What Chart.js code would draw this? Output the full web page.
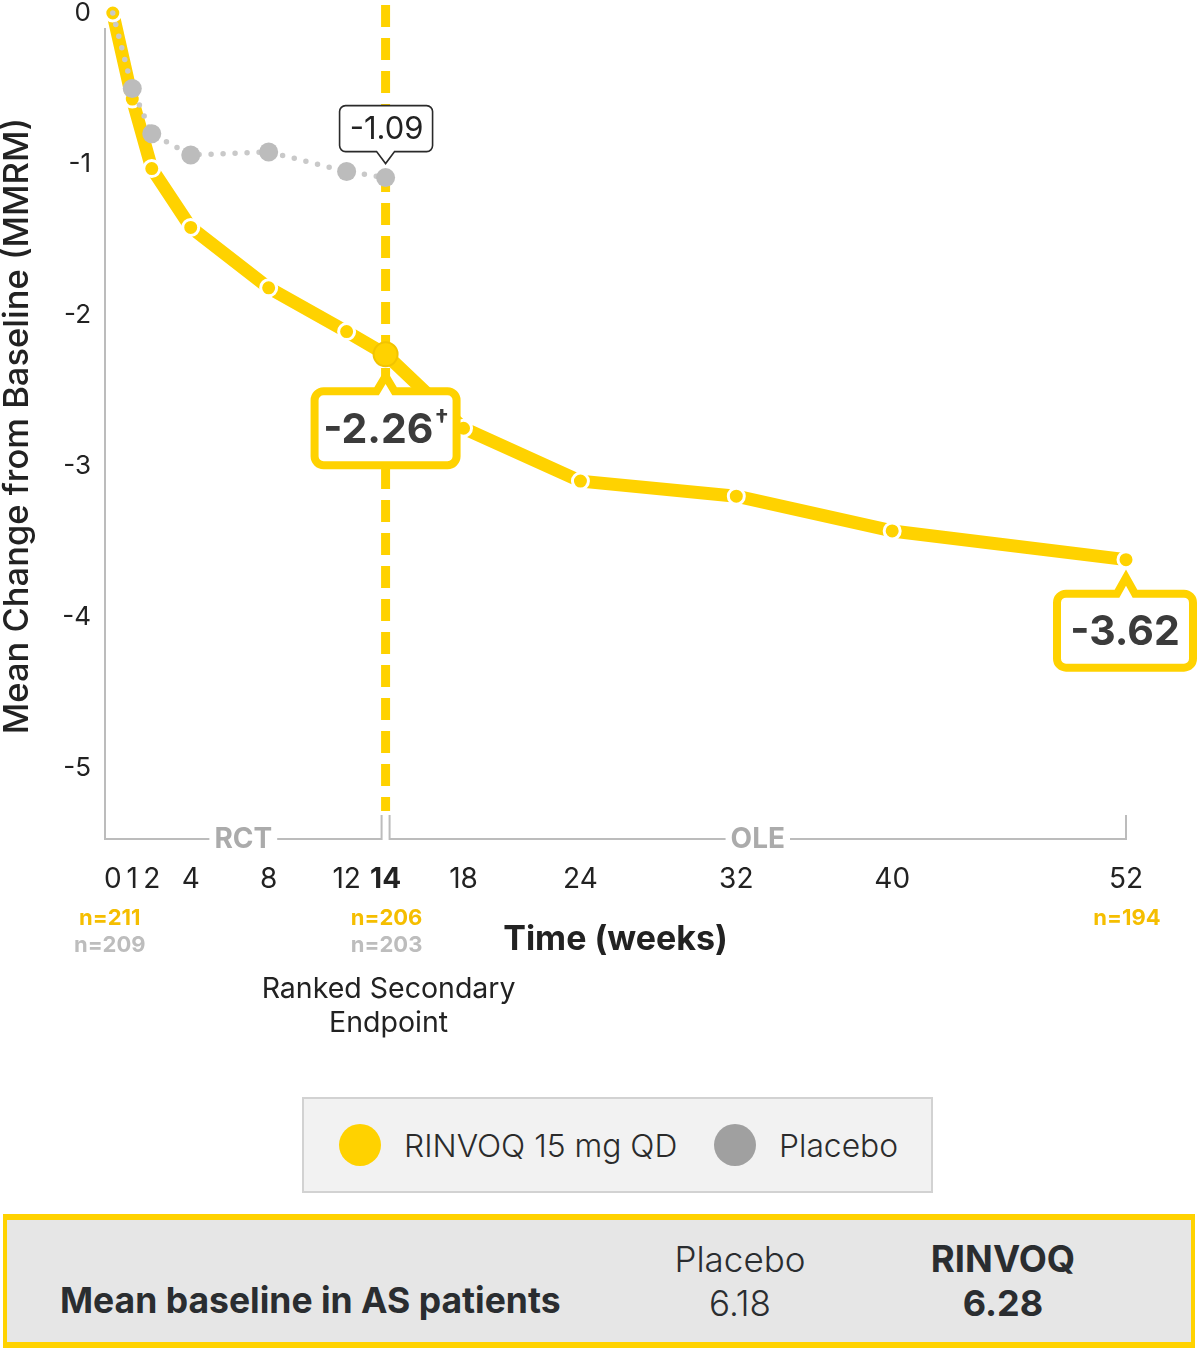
<!DOCTYPE html>
<html><head><meta charset="utf-8">
<script src="https://cdn.jsdelivr.net/npm/chart.js@4.4.1/dist/chart.umd.min.js"></script>
<style>
html,body{margin:0;padding:0;background:#fff;}
#wrap{position:relative;width:1199px;height:1350px;overflow:hidden;font-family:Inter,Roboto,"Noto Sans",sans-serif;color:#2a2d30;}
#c{position:absolute;left:0;top:0;}
#legend{position:absolute;left:302px;top:1097px;width:627px;height:92px;background:#f2f2f2;border:2px solid #d2d2d2;}
.sw{position:absolute;width:42px;height:42px;border-radius:50%;transform:translate(-50%,-50%);}
.t{position:absolute;white-space:nowrap;transform:translateY(-50%);}
.tc{position:absolute;white-space:nowrap;transform:translate(-50%,-50%);}
#tbl{position:absolute;left:3px;top:1214px;width:1184px;height:122px;background:#e6e6e6;border:solid #FFD200;border-width:6px 4px;}
</style></head>
<body><div id="wrap">
<canvas id="c" width="1199" height="1080"></canvas>
<div id="legend"></div>
<div class="sw" style="left:360px;top:1145px;background:#FFD200"></div>
<div class="t" style="left:404px;top:1145px;font-size:31.8px;font-weight:300;color:#2b2b2b">RINVOQ 15 mg QD</div>
<div class="sw" style="left:735px;top:1145px;background:#a0a0a0"></div>
<div class="t" style="left:779px;top:1145px;font-size:31.8px;font-weight:300;color:#2b2b2b">Placebo</div>
<div id="tbl"></div>
<div class="t" style="left:60px;top:1300px;font-size:35.5px;font-weight:700">Mean baseline in AS patients</div>
<div class="tc" style="left:740px;top:1259px;font-size:35px;font-weight:300">Placebo</div>
<div class="tc" style="left:740px;top:1303px;font-size:35px;font-weight:300">6.18</div>
<div class="tc" style="left:1003px;top:1259px;font-size:36.5px;font-weight:700">RINVOQ</div>
<div class="tc" style="left:1003px;top:1303px;font-size:36px;font-weight:700">6.28</div>
</div>
<script>
// ---- data ----
const weeks = [0, 1, 2, 4, 8, 12, 14, 18, 24, 32, 40, 52];
const rinvoqValues = [0, -0.57, -1.03, -1.42, -1.82, -2.11, -2.26, -2.75, -3.10, -3.20, -3.43, -3.62];
const placeboWeeks = [0, 1, 2, 4, 8, 12, 14];
const placeboValues = [0, -0.50, -0.80, -0.94, -0.92, -1.05, -1.09];
const xTickValues = [0, 1, 2, 4, 8, 12, 14, 18, 24, 32, 40, 52];
const yTickValues = [0, -1, -2, -3, -4, -5];
const nRinvoq = {0: 'n=211', 14: 'n=206', 52: 'n=194'};
const nPlacebo = {0: 'n=209', 14: 'n=203'};
const endpointWeek = 14;
const lastWeek = 52;

const YEL = '#FFD200';
const GRAY_PT = '#bcbcbc';
const FONT = 'Inter, Roboto, sans-serif';

function calloutPath(ctx, L, R, T, B, r, tx, tipY, hb, up) {
  ctx.beginPath();
  ctx.moveTo(L + r, T);
  if (up) { ctx.lineTo(tx - hb, T); ctx.lineTo(tx, tipY); ctx.lineTo(tx + hb, T); }
  ctx.lineTo(R - r, T);
  ctx.arcTo(R, T, R, T + r, r);
  ctx.lineTo(R, B - r);
  ctx.arcTo(R, B, R - r, B, r);
  if (!up) { ctx.lineTo(tx + hb, B); ctx.lineTo(tx, tipY); ctx.lineTo(tx - hb, B); }
  ctx.lineTo(L + r, B);
  ctx.arcTo(L, B, L, B - r, r);
  ctx.lineTo(L, T + r);
  ctx.arcTo(L, T, L + r, T, r);
  ctx.closePath();
}

const deco = {
  id: 'deco',
  beforeDatasetsDraw(chart) {
    const {ctx, chartArea: a, scales: {x}} = chart;
    const x14 = x.getPixelForValue(endpointWeek), x52 = x.getPixelForValue(lastWeek);
    ctx.save();
    ctx.strokeStyle = '#bcbcbc'; ctx.lineWidth = 2;
    ctx.beginPath();
    ctx.moveTo(a.left, a.top + 15); ctx.lineTo(a.left, a.bottom);
    ctx.lineTo(x14 - 4, a.bottom); ctx.lineTo(x14 - 4, a.bottom - 24);
    ctx.moveTo(x14 + 4, a.bottom - 24); ctx.lineTo(x14 + 4, a.bottom); ctx.lineTo(x52, a.bottom); ctx.lineTo(x52, a.bottom - 24);
    ctx.stroke();
    ctx.font = '700 28px ' + FONT;
    ctx.textAlign = 'center'; ctx.textBaseline = 'middle';
    const lab = (t, cx) => {
      const w = ctx.measureText(t).width + 10;
      ctx.fillStyle = '#fff'; ctx.fillRect(cx - w / 2, a.bottom - 10, w, 20);
      ctx.fillStyle = '#ababab'; ctx.fillText(t, cx, a.bottom + 1);
    };
    lab('RCT', (a.left + x14 - 4) / 2);
    lab('OLE', (x14 + 4 + x52) / 2);
    ctx.strokeStyle = YEL; ctx.lineWidth = 9; ctx.setLineDash([22, 11]);
    ctx.beginPath(); ctx.moveTo(x14, 5); ctx.lineTo(x14, a.bottom - 28); ctx.stroke();
    ctx.restore();
  },
  afterDatasetsDraw(chart) {
    const {ctx, chartArea: a, scales: {x, y}} = chart;
    ctx.save();
    ctx.setLineDash([]);
    ctx.lineJoin = 'miter';
    // placebo week 14 callout
    const pi = placeboWeeks.indexOf(endpointWeek);
    let px = x.getPixelForValue(endpointWeek), py = y.getPixelForValue(placeboValues[pi]);
    calloutPath(ctx, px - 46, px + 47, py - 72, py - 26, 6, px, py - 14, 9, false);
    ctx.fillStyle = '#fff'; ctx.fill();
    ctx.strokeStyle = '#2a2a2a'; ctx.lineWidth = 1.6; ctx.stroke();
    ctx.fillStyle = '#222'; ctx.font = '400 31px ' + FONT;
    ctx.textAlign = 'center'; ctx.textBaseline = 'middle';
    ctx.fillText(placeboValues[pi].toFixed(2), px + 1, py - 48);

    // rinvoq callouts
    const big = (wk, dx, halfW, tipOff, topOff, h, dagger) => {
      const i = weeks.indexOf(wk);
      const cx = x.getPixelForValue(wk), cy = y.getPixelForValue(rinvoqValues[i]);
      const L = cx + dx - halfW, R = cx + dx + halfW, T = cy + topOff, B = T + h;
      calloutPath(ctx, L, R, T, B, 9, cx, cy + tipOff, 9, true);
      ctx.fillStyle = '#fff'; ctx.fill();
      ctx.strokeStyle = YEL; ctx.lineWidth = 8; ctx.stroke();
      const txt = rinvoqValues[i].toFixed(2);
      ctx.font = '700 41px ' + FONT;
      const w1 = ctx.measureText(txt).width;
      ctx.font = '700 25px ' + FONT;
      const w2 = dagger ? ctx.measureText('†').width : 0;
      const sx = cx + dx - (w1 + w2) / 2;
      ctx.textAlign = 'left'; ctx.textBaseline = 'middle'; ctx.fillStyle = '#3b3b3b';
      ctx.font = '700 41px ' + FONT;
      ctx.fillText(txt, sx, (T + B) / 2 + 2);
      if (dagger) { ctx.font = '700 25px ' + FONT; ctx.fillText('†', sx + w1 + 1, (T + B) / 2 - 8); }
    };
    big(endpointWeek, 0, 71, 22, 37, 74, true);
    big(lastWeek, -1, 68, 18, 34, 74, false);

    // n labels
    ctx.textAlign = 'center'; ctx.textBaseline = 'middle';
    ctx.font = '700 22px ' + FONT;
    const nx = k => Math.max(a.left, x.getPixelForValue(+k) - 4) + 1;
    for (const k in nRinvoq) { ctx.fillStyle = '#F5BE00'; ctx.fillText(nRinvoq[k], +k === 0 ? nx(k) : x.getPixelForValue(+k) + 1, 918); }
    for (const k in nPlacebo) { ctx.fillStyle = '#bdbdbd'; ctx.fillText(nPlacebo[k], +k === 0 ? nx(k) : x.getPixelForValue(+k) + 1, 945); }
    // endpoint label
    ctx.fillStyle = '#222'; ctx.font = '400 28.5px ' + FONT;
    const ex = x.getPixelForValue(endpointWeek) + 3;
    ctx.fillText('Ranked Secondary', ex, 989);
    ctx.fillText('Endpoint', ex, 1023);
    ctx.restore();
  }
};

const xyR = weeks.map((w, i) => ({x: w, y: rinvoqValues[i]}));
const xyP = placeboWeeks.map((w, i) => ({x: w, y: placeboValues[i]}));

new Chart(document.getElementById('c'), {
  type: 'line',
  data: {
    datasets: [
      {
        label: 'RINVOQ 15 mg QD', data: xyR, order: 1, clip: false,
        borderColor: YEL, borderWidth: 13, tension: 0, borderJoinStyle: 'round', borderCapStyle: 'round',
        backgroundColor: YEL,
        pointRadius: c => (c.raw && c.raw.x === endpointWeek) ? 12 : 8,
        pointBackgroundColor: YEL,
        pointBorderColor: c => (c.raw && c.raw.x === endpointWeek) ? '#F2C400' : '#ffffff',
        pointBorderWidth: c => (c.raw && c.raw.x === endpointWeek) ? 2 : 3,
        pointHoverRadius: 8
      },
      {
        label: 'Placebo', data: xyP, order: 0, clip: false,
        borderColor: '#c9c9c9', borderWidth: 5.5, borderDash: [0, 12], borderCapStyle: 'round', tension: 0,
        pointRadius: c => (c.raw && c.raw.x === 0) ? 0 : 9.5,
        pointBackgroundColor: GRAY_PT, pointBorderWidth: 0, pointBorderColor: GRAY_PT
      }
    ]
  },
  options: {
    responsive: false, animation: false, events: [],
    layout: {padding: {left: 0, right: 73, top: 13, bottom: 120}},
    plugins: {legend: {display: false}, tooltip: {enabled: false}},
    scales: {
      x: {
        type: 'linear', min: -0.4, max: 52,
        grid: {display: false, drawTicks: false}, border: {display: false},
        afterBuildTicks: s => { s.ticks = xTickValues.map(v => ({value: v})); },
        afterFit: s => { s.height = 121; s.paddingLeft = 0; s.paddingRight = 0; },
        ticks: {
          autoSkip: false, maxRotation: 0, padding: 24, color: '#222',
          font: c => ({family: FONT, size: 28, weight: (c.tick && c.tick.value === endpointWeek) ? '700' : '400'}),
          callback: v => String(v)
        },
        title: {display: true, text: 'Time (weeks)', color: '#222', font: {family: FONT, size: 34, weight: '700'}, padding: 0}
      },
      y: {
        min: -5.47, max: 0,
        grid: {display: false, drawTicks: false}, border: {display: false},
        afterBuildTicks: s => { s.ticks = yTickValues.map(v => ({value: v})); },
        afterFit: s => { s.width = 105; s.paddingTop = 0; s.paddingBottom = 0; },
        ticks: {padding: 14, color: '#222', font: {family: FONT, size: 26}, callback: v => String(v)},
        title: {display: true, text: 'Mean Change from Baseline (MMRM)', color: '#222', font: {family: FONT, size: 34.5, weight: '500'}, padding: {top: -3, bottom: 0}}
      }
    }
  },
  plugins: [deco]
});
</script>
</body></html>
